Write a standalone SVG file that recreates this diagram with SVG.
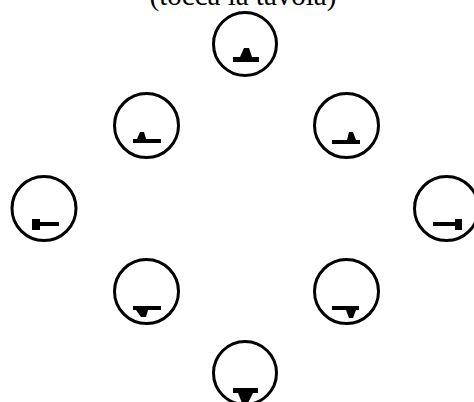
<svg xmlns="http://www.w3.org/2000/svg" width="474" height="402" viewBox="0 0 474 402">
<style>
.ring{fill:none;stroke:#000;stroke-width:3}
.sym{fill:#000;stroke:none}
.lbl{font-family:"Liberation Serif",serif;font-size:29px;fill:#000}
</style>
<rect width="474" height="402" fill="#fff"/>
<text class="lbl" x="243" y="5" text-anchor="middle">(tocca la tavola)</text>
<g id="n-top">
<circle class="ring" cx="245" cy="44" r="31.5"/>
<path class="sym" d="M233 57H240L244 48H249L252 57H259V62H233Z"/>
</g>
<g id="n-upleft">
<circle class="ring" cx="146.5" cy="125.5" r="32"/>
<path class="sym" d="M133 139H137L140 132H144L146 139H161V143H133Z"/>
</g>
<g id="n-upright">
<circle class="ring" cx="346.5" cy="125.5" r="32"/>
<path class="sym" d="M332 140H347L349 132H353L356 140H360V144H332Z"/>
</g>
<g id="n-left">
<circle class="ring" cx="44" cy="208.5" r="32"/>
<path class="sym" d="M32 219H40V222H59V226H40V230H32Z"/>
</g>
<g id="n-right">
<circle class="ring" cx="446.5" cy="208.5" r="32"/>
<path class="sym" d="M433 222H455V219H462V230H455V226H433Z"/>
</g>
<g id="n-downleft">
<circle class="ring" cx="146.5" cy="291.5" r="32"/>
<path class="sym" d="M133 306H161V310H148L146 317H141L136 310H133Z"/>
</g>
<g id="n-downright">
<circle class="ring" cx="346.5" cy="291.5" r="32"/>
<path class="sym" d="M332 306H359V310H356L353 318H349L346 310H332Z"/>
</g>
<g id="n-bottom">
<circle class="ring" cx="245" cy="373" r="31.5"/>
<path class="sym" d="M233 388H258V393H253L248 403H242L238 393H233Z"/>
</g>
<g id="connectors"/>
</svg>
